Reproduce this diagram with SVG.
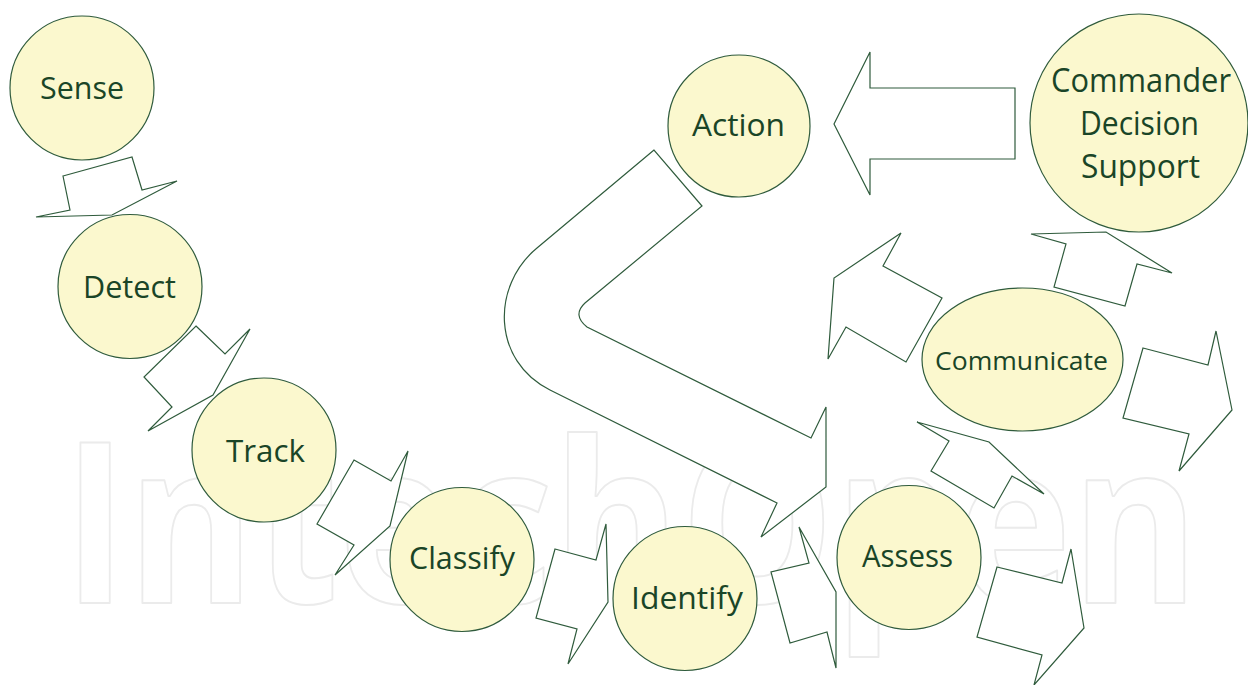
<svg xmlns="http://www.w3.org/2000/svg" width="1248" height="685" viewBox="0 0 1248 685">
<style>
.node{fill:#fbf8ce;stroke:#2f5b3c;stroke-width:1.2}
.lbl{font-family:"Open Sans","Liberation Sans",sans-serif;fill:#1a4527;text-anchor:middle;font-size:31px}
.arrow{fill:#ffffff;stroke:#2f5b3c;stroke-width:1.2;stroke-linejoin:miter}
.wm{font-family:"Open Sans","Liberation Sans",sans-serif;font-size:224px;font-weight:700;fill:none;stroke:#ebebeb;stroke-width:2;stroke-linejoin:round}
</style>
<rect width="1248" height="685" fill="#ffffff"/>
<text class="wm" x="63" y="603" textLength="1136" lengthAdjust="spacingAndGlyphs">IntechOpen</text>
<g id="connectors">
<polygon class="arrow" points="63,176 132,157 142,190 177,181 112,215 36,217 70,210"/>
<polygon class="arrow" points="196,326 225,354 250,329 213,395 148,431 172,407 144,377"/>
<polygon class="arrow" points="354,460 391,481 408,451 390,526 335,575 354,545 317,524"/>
<polygon class="arrow" points="555,549 596,560 606,524 608,602 568,664 577,629 536,618"/>
<polygon class="arrow" points="799,527 836,592 836,668 827,632 790,643 771,572 809,563"/>
<polygon class="arrow" points="997,567 1062,583 1071,549 1084,628 1034,685 1042,655 977,637"/>
<polygon class="arrow" points="917,422 989,442 1044,494 1012,476 994,508 931,471 949,441"/>
<polygon class="arrow" points="901,233 883,266 942,298 906,362 846,327 828,359 834,278"/>
<polygon class="arrow" points="1031,234 1106,232 1172,273 1137,264 1125,306 1054,287 1066,244"/>
<polygon class="arrow" points="1143,348 1208,365 1216,331 1232,410 1179,471 1189,434 1123,418"/>
<polygon class="arrow" points="834,124 870,52 870,88 1015,88 1015,159 870,159 870,195"/>
<path class="arrow" d="M654,150 L537,248 C491,286 492,361 550,390 L777,503 L761,537 L826,487 L826,407 L811,438 L587,327 Q572,315 585,303 L702,206 Z"/>
</g>
<g id="sense"><circle class="node" cx="82" cy="88" r="72"/><text class="lbl" x="82" y="99" textLength="84" lengthAdjust="spacingAndGlyphs">Sense</text></g>
<g id="detect"><circle class="node" cx="130" cy="286.5" r="72"/><text class="lbl" x="129.5" y="298" textLength="93" lengthAdjust="spacingAndGlyphs">Detect</text></g>
<g id="track"><circle class="node" cx="264" cy="450" r="72"/><text class="lbl" x="265.5" y="462" textLength="79" lengthAdjust="spacingAndGlyphs">Track</text></g>
<g id="classify"><circle class="node" cx="462" cy="559.5" r="72"/><text class="lbl" x="462" y="569" textLength="106" lengthAdjust="spacingAndGlyphs">Classify</text></g>
<g id="identify"><circle class="node" cx="685" cy="598.5" r="72"/><text class="lbl" x="687" y="609" textLength="112" lengthAdjust="spacingAndGlyphs">Identify</text></g>
<g id="assess"><circle class="node" cx="909" cy="557.5" r="72"/><text class="lbl" x="907.5" y="567" textLength="91" lengthAdjust="spacingAndGlyphs">Assess</text></g>
<g id="action"><circle class="node" cx="739" cy="126" r="71"/><text class="lbl" x="738.5" y="136" textLength="93" lengthAdjust="spacingAndGlyphs">Action</text></g>
<g id="communicate"><ellipse class="node" cx="1022.5" cy="359.5" rx="100.5" ry="71.5"/><text class="lbl" x="1021.5" y="370" style="font-size:26px" textLength="173" lengthAdjust="spacingAndGlyphs">Communicate</text></g>
<g id="commander"><circle class="node" cx="1139" cy="123" r="109"/>
<text class="lbl" x="1141" y="92" style="font-size:33px" textLength="180" lengthAdjust="spacingAndGlyphs">Commander</text>
<text class="lbl" x="1139.5" y="135" style="font-size:33px" textLength="119" lengthAdjust="spacingAndGlyphs">Decision</text>
<text class="lbl" x="1140.5" y="178" style="font-size:33px" textLength="119" lengthAdjust="spacingAndGlyphs">Support</text></g>
</svg>
